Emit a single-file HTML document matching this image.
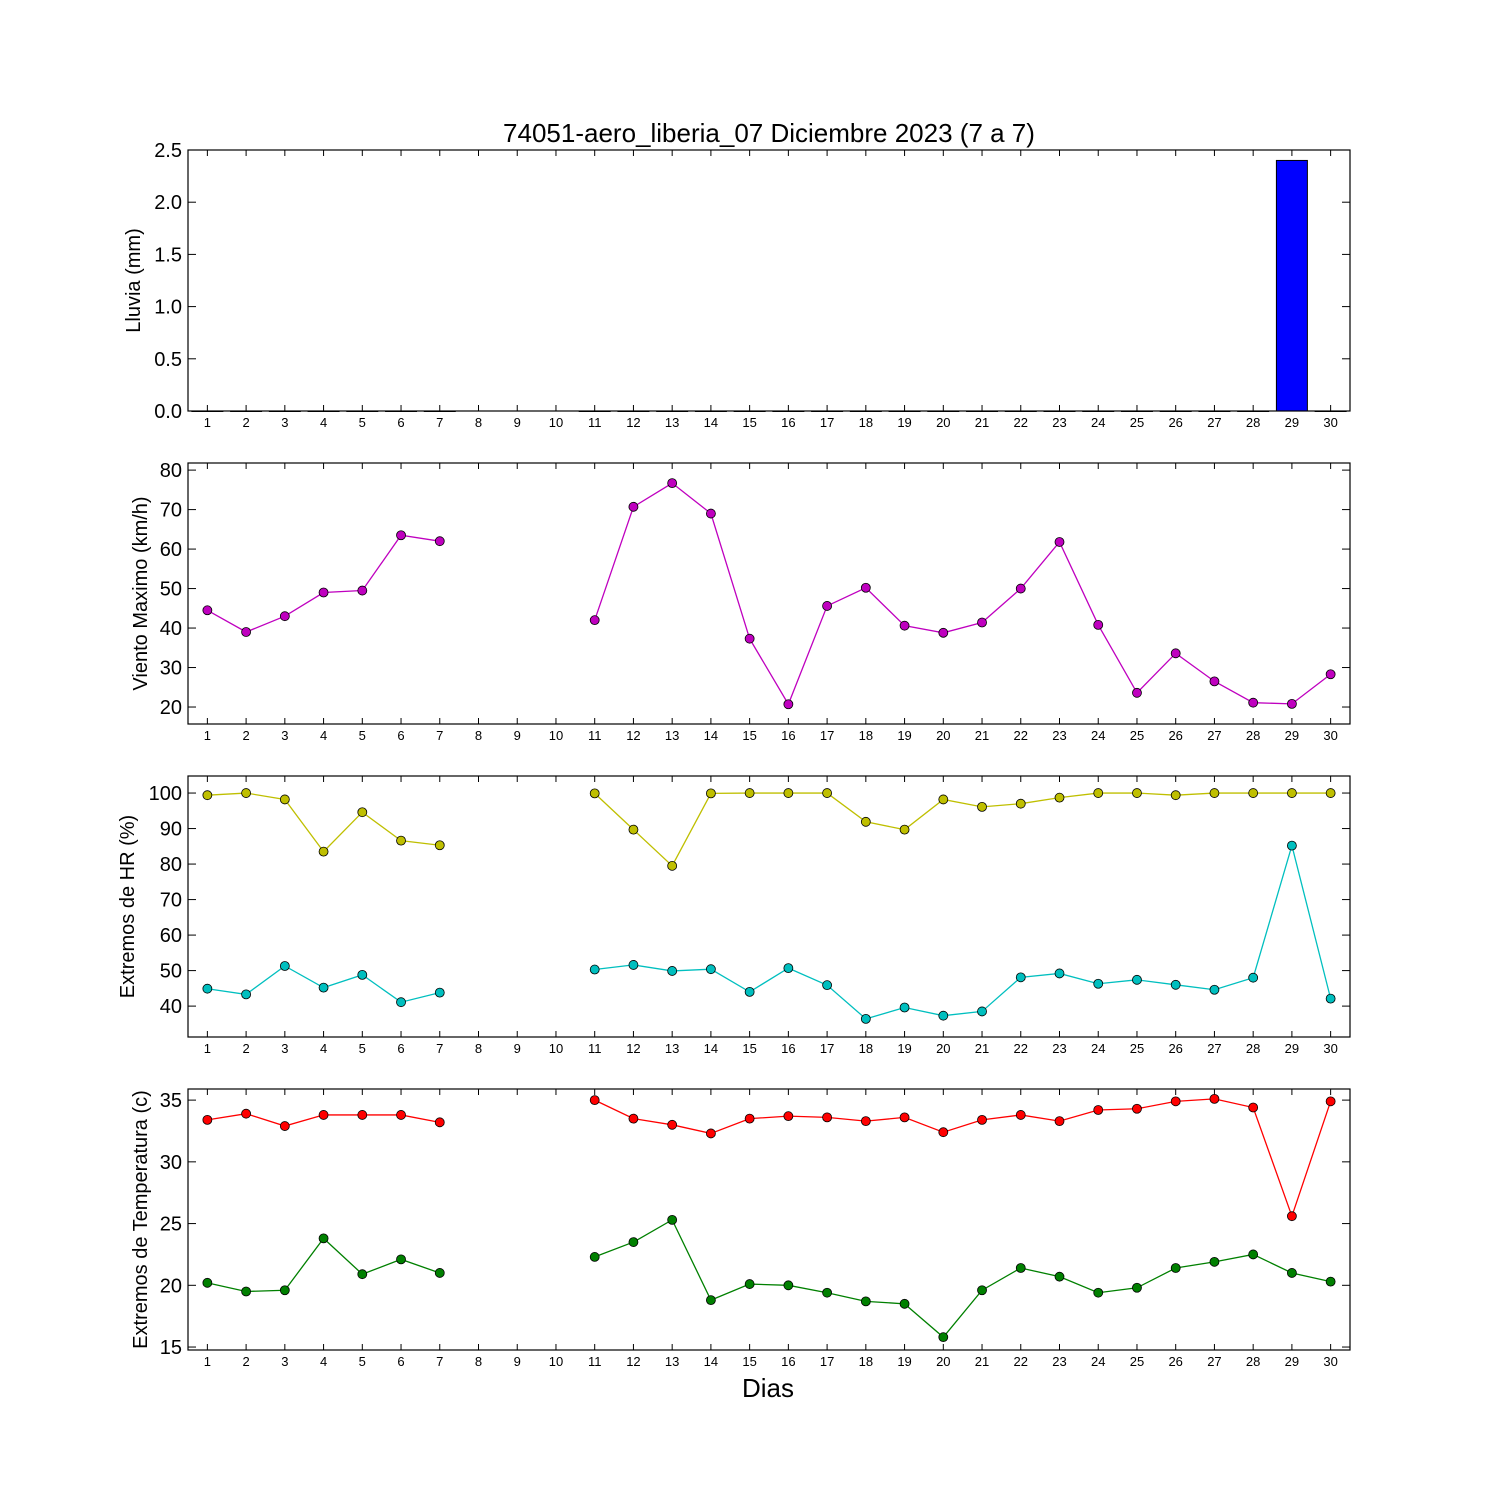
<!DOCTYPE html>
<html><head><meta charset="utf-8"><style>
body{margin:0;background:#fff}
svg text{font-family:"Liberation Sans","DejaVu Sans",sans-serif}
</style></head><body>
<svg id="chart" width="1500" height="1500" xmlns="http://www.w3.org/2000/svg">
<rect width="1500" height="1500" fill="#fff"/>
<text x="769" y="142" font-size="26" text-anchor="middle">74051-aero_liberia_07 Diciembre 2023  (7 a 7)</text>
<text x="768" y="1397" font-size="26" text-anchor="middle">Dias</text>
</svg>
<script>
const days=[1,2,3,4,5,6,7,8,9,10,11,12,13,14,15,16,17,18,19,20,21,22,23,24,25,26,27,28,29,30];
const rain=[0,0,0,0,0,0,0,null,null,null,0,0,0,0,0,0,0,0,0,0,0,0,0,0,0,0,0,0,2.4,0];
const wind=[44.5,39,43,49,49.5,63.5,62,null,null,null,42,70.7,76.7,69,37.3,20.7,45.6,50.2,40.6,38.8,41.4,50,61.8,40.8,23.6,33.6,26.5,21.1,20.8,28.3];
const hrMax=[99.4,100,98.2,83.5,94.6,86.6,85.3,null,null,null,99.9,89.7,79.5,99.9,100,100,100,91.9,89.7,98.2,96.1,97,98.7,100,100,99.4,100,100,100,100];
const hrMin=[44.9,43.3,51.3,45.2,48.8,41.1,43.8,null,null,null,50.3,51.6,49.9,50.4,44,50.7,45.9,36.4,39.6,37.3,38.5,48.1,49.2,46.3,47.4,46,44.6,48,85.2,42.1];
const tMax=[33.4,33.9,32.9,33.8,33.8,33.8,33.2,null,null,null,35,33.5,33,32.3,33.5,33.7,33.6,33.3,33.6,32.4,33.4,33.8,33.3,34.2,34.3,34.9,35.1,34.4,25.6,34.9];
const tMin=[20.2,19.5,19.6,23.8,20.9,22.1,21,null,null,null,22.3,23.5,25.3,18.8,20.1,20,19.4,18.7,18.5,15.8,19.6,21.4,20.7,19.4,19.8,21.4,21.9,22.5,21,20.3];
const rainTicks=["0.0","0.5","1.0","1.5","2.0","2.5"];
const windTicks=[20,30,40,50,60,70,80];
const hrTicks=[40,50,60,70,80,90,100];
const tTicks=[15,20,25,30,35];

const svg=document.getElementById('chart');
const NS='http://www.w3.org/2000/svg';
function mk(t,a,p){const e=document.createElementNS(NS,t);for(const k in a)e.setAttribute(k,a[k]);(p||svg).appendChild(e);return e;}
const X0=188,X1=1350;
function xs(d){return X0+(d-0.5)*(X1-X0)/30;}

function panel(name,top,ymin,ymax,ticks,label){
  const bot=top+261;
  const ys=v=>bot-(v-ymin)/(ymax-ymin)*(bot-top);
  const g=mk('g',{});
  
  
  ticks.forEach(t=>{
    const v=parseFloat(t);const y=ys(v);
    mk('line',{x1:X0,x2:X0+8,y1:y,y2:y,stroke:'#000'},g);
    mk('line',{x1:X1-8,x2:X1,y1:y,y2:y,stroke:'#000'},g);
    const tx=mk('text',{x:X0-6,y:y+7,'font-size':20,'text-anchor':'end'},g);
    tx.textContent=t;
    
    
  });
  days.forEach(d=>{
    const x=xs(d);
    mk('line',{x1:x,x2:x,y1:bot,y2:bot-6,stroke:'#000'},g);
    mk('line',{x1:x,x2:x,y1:top,y2:top+6,stroke:'#000'},g);
    const tx=mk('text',{x:x,y:bot+16,'font-size':13,'text-anchor':'middle'},g);
    tx.textContent=d;
    
    
  });
  const cy=(top+bot)/2;
  const yl=mk('text',{x:0,y:0,'font-size':20,'text-anchor':'middle',transform:`translate(${label[1]},${cy}) rotate(-90)`},g);
  yl.textContent=label[0];
  
  
  return {g,ys,top,bot};
}
function frame(p){mk('rect',{x:X0,y:p.top,width:X1-X0,height:p.bot-p.top,fill:'none',stroke:'#000','stroke-width':1.2},p.g);}
function series(p,vals,color,name){
  let seg=[];const segs=[];
  vals.forEach((v,i)=>{if(v==null){if(seg.length)segs.push(seg);seg=[];}else seg.push([xs(days[i]),p.ys(v)]);});
  if(seg.length)segs.push(seg);
  segs.forEach(s=>{
    const l=mk('polyline',{points:s.map(q=>q.join(',')).join(' '),fill:'none',stroke:color,'stroke-width':1.3},p.g);
    
    
  });
  vals.forEach((v,i)=>{if(v==null)return;
    const c=mk('circle',{cx:xs(days[i]),cy:p.ys(v),r:4.5,fill:color,stroke:'#000','stroke-width':0.8},p.g);
    
    
  });
}

const p1=panel('rain',150,0,2.5,rainTicks,['Lluvia (mm)',140]);
rain.forEach((v,i)=>{if(v==null)return;
  const x=xs(days[i]),w=0.8*(X1-X0)/30;
  const y=p1.ys(v);
  const b=mk('rect',{x:x-w/2,y:y,width:w,height:Math.max(p1.bot-y,0.5),fill:'#0000ff',stroke:'#000','stroke-width':1},p1.g);
  
  
});
frame(p1);

const p2=panel('wind',463,15.7,81.8,windTicks,['Viento Maximo (km/h)',147]);
series(p2,wind,'#bf00bf','wind-max');frame(p2);

const p3=panel('humidity',776,31.3,104.8,hrTicks,['Extremos de HR (%)',134]);
series(p3,hrMax,'#bfbf00','hr-max');series(p3,hrMin,'#00bfbf','hr-min');frame(p3);

const p4=panel('temperature',1089,14.76,35.9,tTicks,['Extremos de Temperatura (c)',147]);
series(p4,tMax,'#ff0000','temp-max');series(p4,tMin,'#008000','temp-min');frame(p4);
</script>
</body></html>
